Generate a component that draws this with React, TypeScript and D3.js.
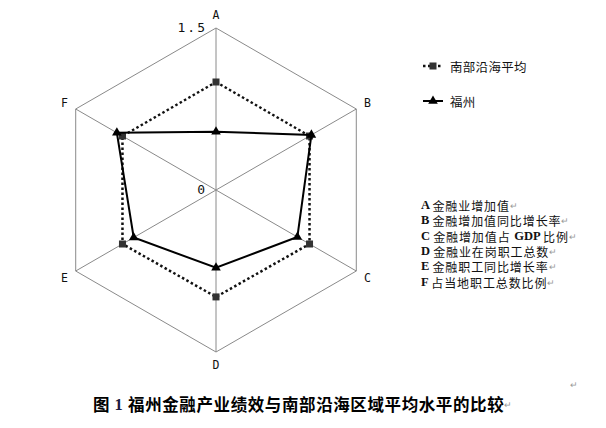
import { useEffect, useRef } from 'react';
import * as d3 from 'd3';

// axes and values
const axes = ['A', 'B', 'C', 'D', 'E', 'F'];
const southCoastAvg = [1.0, 1.0, 1.0, 0.99, 1.0, 1.0];
const fuzhou = [0.54, 1.02, 0.87, 0.72, 0.88, 1.06];
const axisTicks = [0, 1.5];
const seriesNames = ['南部沿海平均', '福州'];
const axisNotes = [
  ['A', '金融业增加值'],
  ['B', '金融增加值同比增长率'],
  ['C', '金融增加值占 GDP 比例'],
  ['D', '金融业在岗职工总数'],
  ['E', '金融职工同比增长率'],
  ['F', '占当地职工总数比例'],
];
const caption = ['图', '1', '福州金融产业绩效与南部沿海区域平均水平的比较'];

const W = 606;
const H = 428;
const CJK = '"Noto Sans CJK SC", sans-serif';
const SERIF = '"Liberation Serif", serif';
const MONO = '"DejaVu Sans Mono", monospace';

export default function App() {
  const svgRef = useRef<SVGSVGElement>(null);

  useEffect(() => {
    if (!svgRef.current) return;
    const svg = d3.select(svgRef.current);
    svg.selectAll('*').remove();

    svg.append('rect').attr('width', W).attr('height', H).attr('fill', '#fff');

    const cx = 216;
    const cy = 190;
    const r = d3.scaleLinear().domain([0, 1.5]).range([0, 162]);
    const angle = d3
      .scaleLinear()
      .domain([0, axes.length])
      .range([0, 2 * Math.PI]);

    const g = svg.append('g').attr('transform', `translate(${cx},${cy})`);
    const pt = (i: number, v: number): [number, number] => [
      Math.sin(angle(i)) * r(v),
      -Math.cos(angle(i)) * r(v),
    ];

    // outer ring
    const maxV = axisTicks[axisTicks.length - 1];
    g.append('path')
      .attr('d', d3.line().curve(d3.curveLinearClosed)(axes.map((_, i) => pt(i, maxV))))
      .attr('fill', 'none')
      .attr('stroke', '#8a8a8a')
      .attr('stroke-width', 1);

    // spokes
    g.selectAll('line.spoke')
      .data(axes)
      .join('line')
      .attr('class', 'spoke')
      .attr('x1', 0)
      .attr('y1', 0)
      .attr('x2', (_, i) => pt(i, maxV)[0])
      .attr('y2', (_, i) => pt(i, maxV)[1])
      .attr('stroke', '#8a8a8a')
      .attr('stroke-width', 1);

    // axis labels
    g.selectAll('text.axis')
      .data(axes)
      .join('text')
      .attr('class', 'axis')
      .attr('x', (_, i) => Math.sin(angle(i)) * (r(maxV) + 13))
      .attr('y', (_, i) => -Math.cos(angle(i)) * (r(maxV) + 13))
      .attr('text-anchor', 'middle')
      .attr('dominant-baseline', 'central')
      .attr('font-family', MONO)
      .attr('font-size', 11.5)
      .attr('fill', '#111')
      .text((d) => d);

    // tick labels on A axis
    g.selectAll('text.tick')
      .data(axisTicks)
      .join('text')
      .attr('class', 'tick')
      .attr('x', -9)
      .attr('y', (d) => -r(d) - 1)
      .attr('text-anchor', 'end')
      .attr('dominant-baseline', 'central')
      .attr('font-family', MONO)
      .attr('font-size', 13)
      .attr('letter-spacing', 2)
      .attr('fill', '#111')
      .text((d) => (d === 0 ? '0' : d.toFixed(1)));

    const line = d3.line().curve(d3.curveLinearClosed);
    const tri = d3.symbol().type(d3.symbolTriangle).size(40);

    // south coast average: dotted with squares
    g.append('path')
      .attr('d', line(southCoastAvg.map((v, i) => pt(i, v))))
      .attr('fill', 'none')
      .attr('stroke', '#111')
      .attr('stroke-width', 2.5)
      .attr('stroke-dasharray', '2.5,2.5');
    g.selectAll('rect.sq')
      .data(southCoastAvg)
      .join('rect')
      .attr('class', 'sq')
      .attr('x', (v, i) => pt(i, v)[0] - 3.5)
      .attr('y', (v, i) => pt(i, v)[1] - 3.5)
      .attr('width', 7)
      .attr('height', 7)
      .attr('fill', '#333');

    // fuzhou: solid with triangles
    g.append('path')
      .attr('d', line(fuzhou.map((v, i) => pt(i, v))))
      .attr('fill', 'none')
      .attr('stroke', '#000')
      .attr('stroke-width', 2);
    g.selectAll('path.tri')
      .data(fuzhou)
      .join('path')
      .attr('class', 'tri')
      .attr('d', tri)
      .attr('transform', (v, i) => `translate(${pt(i, v)[0]},${pt(i, v)[1]})`)
      .attr('fill', '#000');

    // legend
    const lg = svg.append('g').attr('transform', 'translate(423,0)');
    const legendY = [66, 101];
    lg.append('line')
      .attr('x1', 0)
      .attr('x2', 20)
      .attr('y1', legendY[0])
      .attr('y2', legendY[0])
      .attr('stroke', '#111')
      .attr('stroke-width', 2.5)
      .attr('stroke-dasharray', '2.5,2.5');
    lg.append('rect')
      .attr('x', 6.5)
      .attr('y', legendY[0] - 3.5)
      .attr('width', 7)
      .attr('height', 7)
      .attr('fill', '#333');
    lg.append('line')
      .attr('x1', 0)
      .attr('x2', 20)
      .attr('y1', legendY[1])
      .attr('y2', legendY[1])
      .attr('stroke', '#000')
      .attr('stroke-width', 2);
    lg.append('path')
      .attr('d', tri)
      .attr('transform', `translate(10,${legendY[1]})`)
      .attr('fill', '#000');
    lg.selectAll('text.lg')
      .data(seriesNames)
      .join('text')
      .attr('class', 'lg')
      .attr('x', 27)
      .attr('y', (_, i) => legendY[i])
      .attr('dominant-baseline', 'central')
      .attr('font-family', CJK)
      .attr('font-size', 12.5)
      .attr('letter-spacing', 0.3)
      .attr('fill', '#111')
      .text((d) => d);

    // axis notes
    const notes = svg.append('g').attr('transform', 'translate(421,0)');
    const noteY = d3.scaleLinear().domain([0, 1]).range([205, 220.3]);
    const rows = notes
      .selectAll('text.note')
      .data(axisNotes)
      .join('text')
      .attr('class', 'note')
      .attr('x', 0)
      .attr('y', (_, i) => noteY(i))
      .attr('dominant-baseline', 'central')
      .attr('font-size', 12)
      .attr('fill', '#111');
    rows
      .append('tspan')
      .attr('font-family', SERIF)
      .attr('font-weight', 'bold')
      .attr('font-size', 12.5)
      .text((d) => d[0] + ' ');
    rows.each(function (d) {
      const t = d3.select(this);
      const cjk = (s: string) =>
        t.append('tspan').attr('font-family', CJK).attr('letter-spacing', 0.9).text(s);
      if (d[1].includes('GDP')) {
        const [a, b] = d[1].split('GDP');
        cjk(a);
        t.append('tspan')
          .attr('font-family', SERIF)
          .attr('font-weight', 'bold')
          .attr('font-size', 12.5)
          .text('GDP ');
        cjk(b.trim());
      } else {
        cjk(d[1]);
      }
      t.append('tspan').attr('font-family', CJK).attr('font-size', 9).attr('fill', '#999').text('↵');
    });

    // caption
    const cap = svg
      .append('text')
      .attr('x', 93)
      .attr('y', 404)
      .attr('dominant-baseline', 'central')
      .attr('font-family', CJK)
      .attr('font-weight', 'bold')
      .attr('font-size', 16.5)
      .attr('letter-spacing', 0.6)
      .attr('fill', '#000');
    cap.append('tspan').text(caption[0] + ' ');
    cap.append('tspan').attr('font-family', SERIF).attr('fill', '#1a1a40').text(caption[1] + ' ');
    cap.append('tspan').text(caption[2]);
    cap
      .append('tspan')
      .attr('font-weight', 'normal')
      .attr('font-size', 9)
      .attr('letter-spacing', 0)
      .attr('fill', '#999')
      .text('↵');

    svg
      .append('text')
      .attr('x', 570)
      .attr('y', 384)
      .attr('dominant-baseline', 'central')
      .attr('font-family', CJK)
      .attr('font-size', 9)
      .attr('fill', '#999')
      .text('↵');
  }, []);

  return (
    <svg
      ref={svgRef}
      width={W}
      height={H}
      style={{ position: 'absolute', left: 0, top: 0, display: 'block' }}
    />
  );
}
